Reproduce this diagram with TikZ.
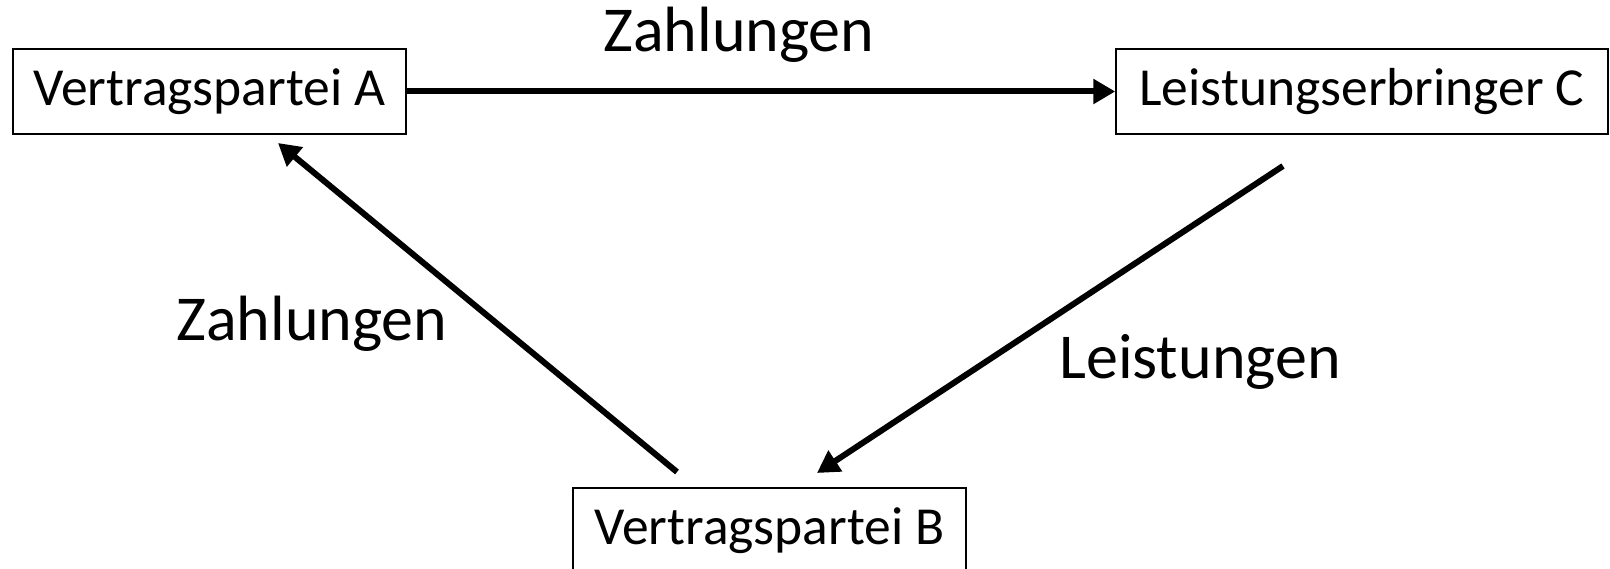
\documentclass[tikz,border=0pt]{standalone}
\usepackage{fontspec}
\setmainfont{Carlito}
\usetikzlibrary{arrows.meta}
\begin{document}
\begin{tikzpicture}[x=1pt,y=-1pt,
  party/.style={draw,line width=1.5pt,minimum height=85pt,inner sep=0pt,
    font=\fontsize{53.5}{62}\selectfont},
  flow/.style={line width=6pt,-{Triangle[length=22pt,width=24pt]}},
  lbl/.style={font=\fontsize{64}{74}\selectfont,inner sep=0pt}]
  \useasboundingbox (0,0) rectangle (1610,569);
  \node[party,minimum width=393pt] (A) at (209.5,91.5) {Vertragspartei A};
  \node[party,minimum width=492pt] (C) at (1362,91.5) {Leistungserbringer C};
  \node[party,minimum width=393pt] (B) at (769.5,530.5) {Vertragspartei B};
  \coordinate (ba0) at (677,472);
  \coordinate (ba1) at (278,143);
  \coordinate (cb0) at (1283,166);
  \coordinate (cb1) at (817,473);
  \draw[flow] (A) -- (C);
  \draw[flow] (ba0) -- (ba1);
  \draw[flow] (cb0) -- (cb1);
  \node[lbl] (z1) at (739,35) {Zahlungen};
  \node[lbl] (z2) at (312,324) {Zahlungen};
  \node[lbl] (l1) at (1200,362) {Leistungen};
\end{tikzpicture}
\end{document}
